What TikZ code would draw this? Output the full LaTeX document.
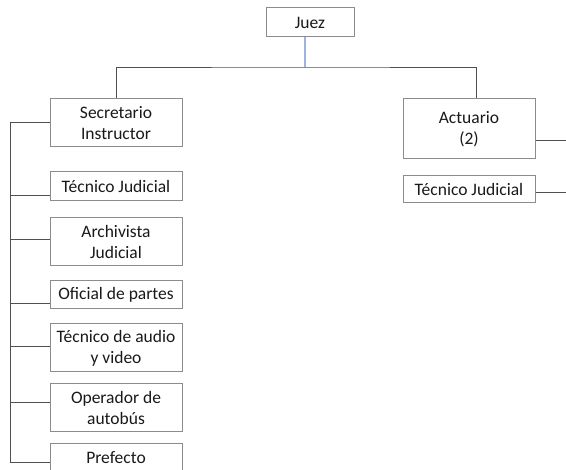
\documentclass[tikz,border=0pt]{standalone}
\usepackage{fontspec}
\setmainfont{Carlito}
\usetikzlibrary{positioning}

\definecolor{boxgray}{HTML}{8C8C8C}
\definecolor{linegray}{HTML}{505050}
\definecolor{juezblue}{HTML}{9DB4E0}

\tikzset{
    puesto/.style={draw=boxgray, line width=1pt, fill=white, align=center,
        minimum width=132pt, inner sep=0pt, text=black!90,
        font=\fontsize{17.5}{21}\selectfont},
    link/.style={draw=linegray, line width=0.9pt}
}

\begin{document}
\begin{tikzpicture}[x=1pt, y=-1pt]
    \useasboundingbox (0,0) rectangle (566,470);
    \clip (0,0) rectangle (566,470);

    % top
    \node[puesto, minimum width=88pt, minimum height=29pt] (juez) at (310,22.5) {Juez};
    \coordinate (hub) at (305,67);
    \coordinate (lbus) at (10,0);
    \coordinate (rbus) at (566,0);

    % left branch
    \node[puesto, minimum height=48pt] (sec) at (116,123) {Secretario\\Instructor};
    \node[puesto, minimum height=29pt] (tec1) at (116,186.5) {Técnico Judicial};
    \node[puesto, minimum height=48pt] (arch) at (116,242) {Archivista\\Judicial};
    \node[puesto, minimum height=28pt] (ofi) at (116,295) {Oficial de partes};
    \node[puesto, minimum height=48pt] (audio) at (116,348) {Técnico de audio\\y video};
    \node[puesto, minimum height=48pt] (oper) at (116,408) {Operador de\\autobús};
    \node[puesto, minimum height=48pt] (pref) at (116,468) {Prefecto\\};

    % right branch
    \node[puesto, minimum height=60pt] (act) at (469,129) {Actuario\\(2)};
    \node[puesto, minimum height=27pt] (tec2) at (469,189.5) {Técnico Judicial};

    % connectors
    \draw[juezblue, line width=1.1pt] ([xshift=-5pt]juez.south) -- (hub);
    \draw[link] (sec.north) |- (hub) -| ([xshift=7pt]act.north);
    \foreach \n/\dy in {sec/1, tec1/-8.5, arch/3, ofi/-8, audio/2, oper/6, pref/6}
        \coordinate (\n-in) at ([yshift=\dy pt]\n.west);
    \draw[link] (sec-in) -| (lbus |- pref-in) -- (pref-in);
    \foreach \n in {tec1, arch, ofi, audio, oper}
        \draw[link] (\n-in) -- (lbus |- \n-in);
    \coordinate (act-out) at ([yshift=-11pt]act.east);
    \coordinate (tec2-out) at ([yshift=-2.5pt]tec2.east);
    \draw[link] (act-out) -- (rbus |- act-out);
    \draw[link] (tec2-out) -- (rbus |- tec2-out);
\end{tikzpicture}
\end{document}
